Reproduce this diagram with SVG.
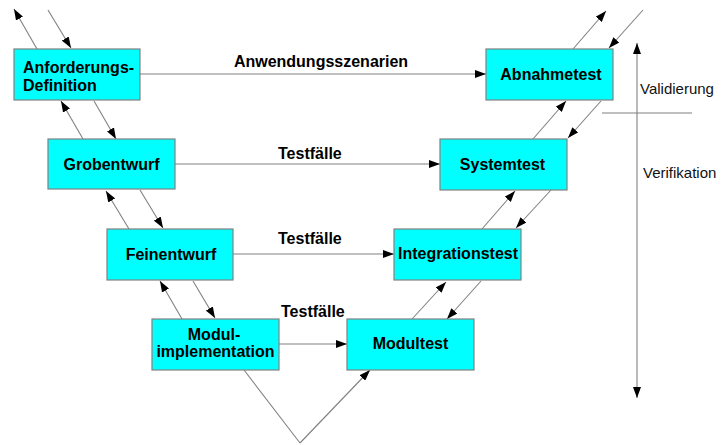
<svg xmlns="http://www.w3.org/2000/svg" width="721" height="445" viewBox="0 0 721 445">
<defs>
<marker id="ah" markerUnits="userSpaceOnUse" markerWidth="11" markerHeight="8" refX="11" refY="4" orient="auto">
<path d="M0,0 L11,4 L0,8 z" fill="#000"/>
</marker>
<style>
.box{fill:#00ffff;stroke:#808080;stroke-width:1.2}
.t{font-family:"Liberation Sans",Arial,sans-serif;font-weight:bold;font-size:16px;fill:#000}
.c{text-anchor:middle}
.n{font-family:"Liberation Sans",Arial,sans-serif;font-size:15px;fill:#111}
.ln{stroke:#808080;stroke-width:1.1;fill:none}
.ar{marker-end:url(#ah)}
</style>
</defs>
<rect width="721" height="445" fill="#fff"/>
<g id="connectors">
<!-- top left -->
<line class="ln ar" x1="37" y1="49" x2="14" y2="9"/>
<line class="ln ar" x1="48" y1="10" x2="71" y2="48"/>
<line class="ln ar" x1="83" y1="139" x2="61" y2="101"/>
<line class="ln ar" x1="94" y1="101" x2="116" y2="139"/>
<line class="ln ar" x1="129" y1="229" x2="106" y2="191"/>
<line class="ln ar" x1="140" y1="190" x2="163" y2="228"/>
<line class="ln ar" x1="182" y1="319" x2="160" y2="281"/>
<line class="ln ar" x1="193" y1="281" x2="215" y2="318"/>
<!-- bottom V -->
<polyline class="ln" points="244,370 300,443"/>
<line class="ln ar" x1="300" y1="443" x2="370" y2="370"/>
<!-- right side -->
<line class="ln ar" x1="412" y1="319" x2="446" y2="282"/>
<line class="ln ar" x1="481" y1="281" x2="447" y2="319"/>
<line class="ln ar" x1="482" y1="229" x2="515" y2="191"/>
<line class="ln ar" x1="551" y1="190" x2="516" y2="228"/>
<line class="ln ar" x1="533" y1="139" x2="566" y2="101"/>
<line class="ln ar" x1="601" y1="101" x2="568" y2="138"/>
<line class="ln ar" x1="573" y1="49" x2="606" y2="11"/>
<line class="ln ar" x1="643" y1="10" x2="609" y2="48"/>
<!-- horizontals -->
<line class="ln ar" x1="140" y1="74" x2="486" y2="74"/>
<line class="ln ar" x1="175" y1="164" x2="440" y2="164"/>
<line class="ln ar" x1="233" y1="254" x2="394" y2="254"/>
<line class="ln ar" x1="279" y1="344" x2="347" y2="344"/>
<!-- verification axis -->
<line class="ln ar" x1="637" y1="220" x2="637" y2="43"/>
<line class="ln ar" x1="637" y1="220" x2="637" y2="398"/>
<line class="ln" x1="602" y1="113" x2="692" y2="113"/>
<text class="t c" x="321" y="67">Anwendungsszenarien</text>
<text class="t" x="278" y="159">Testfälle</text>
<text class="t" x="278" y="244">Testfälle</text>
<text class="t" x="281" y="317">Testfälle</text>
<text class="n" x="640" y="94">Validierung</text>
<text class="n" x="643" y="178">Verifikation</text>
</g>
<g id="anforderung">
<rect class="box" x="14" y="49" width="126" height="51"/>
<text class="t" x="23" y="73">Anforderungs-</text>
<text class="t" x="23" y="91">Definition</text>
</g>
<g id="grobentwurf">
<rect class="box" x="48" y="139" width="127" height="50"/>
<text class="t c" x="111.5" y="169.5">Grobentwurf</text>
</g>
<g id="feinentwurf">
<rect class="box" x="107" y="229" width="126" height="51"/>
<text class="t c" x="171" y="259.5">Feinentwurf</text>
</g>
<g id="modulimplementation">
<rect class="box" x="152" y="319" width="127" height="51"/>
<text class="t c" x="214" y="340">Modul-</text>
<text class="t c" x="215.5" y="357">implementation</text>
</g>
<g id="modultest">
<rect class="box" x="347" y="319" width="127" height="51"/>
<text class="t c" x="410.5" y="348.5">Modultest</text>
</g>
<g id="integrationstest">
<rect class="box" x="394" y="229" width="127" height="51"/>
<text class="t c" x="458" y="259">Integrationstest</text>
</g>
<g id="systemtest">
<rect class="box" x="440" y="139" width="127" height="51"/>
<text class="t c" x="502.5" y="169.5">Systemtest</text>
</g>
<g id="abnahmetest">
<rect class="box" x="486" y="49" width="127" height="51"/>
<text class="t c" x="551" y="80">Abnahmetest</text>
</g>
</svg>
